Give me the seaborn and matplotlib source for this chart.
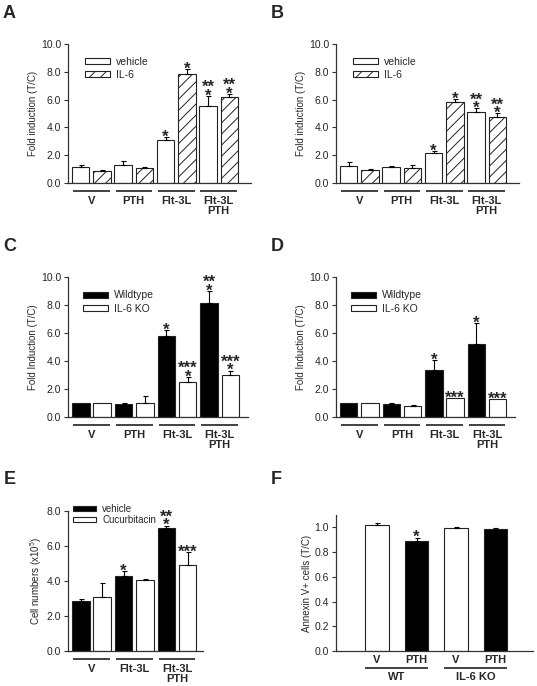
"""
Six-panel bar figure: fold induction / cell numbers / annexin V.
"""

import numpy as np
import pandas as pd
import matplotlib
matplotlib.use("Agg")
import matplotlib.pyplot as plt
import matplotlib.transforms as mtransforms
from matplotlib.patches import Patch
import seaborn as sns

# ---- data -----------------------------------------------------------------
groups = ["V", "PTH", "Flt-3L", "Flt-3L\nPTH"]

# A
a_names = ["vehicle", "IL-6"]
a_vehicle = [1.13, 1.32, 3.09, 5.54]
a_vehicle_err = [0.20, 0.24, 0.24, 0.74]
a_il6 = [0.86, 1.08, 7.82, 6.19]
a_il6_err = [0.10, 0.10, 0.38, 0.24]
a_vehicle_stars = [(), (), ("*",), ("*", "**")]
a_il6_stars = [(), (), ("*",), ("*", "**")]

# B
b_vehicle = [1.25, 1.13, 2.13, 5.08]
b_vehicle_err = [0.26, 0.09, 0.17, 0.29]
b_il6 = [0.94, 1.10, 5.80, 4.75]
b_il6_err = [0.05, 0.20, 0.22, 0.26]
b_vehicle_stars = [(), (), ("*",), ("*", "**")]
b_il6_stars = [(), (), ("*",), ("*", "**")]

# C
cd_names = ["Wildtype", "IL-6 KO"]
c_wt = [1.0, 0.95, 5.76, 8.14]
c_wt_err = [0.0, 0.07, 0.48, 0.88]
c_ko = [1.0, 0.97, 2.52, 3.00]
c_ko_err = [0.0, 0.55, 0.33, 0.32]
c_wt_stars = [(), (), ("*",), ("*", "**")]
c_ko_stars = [(), (), ("*", "***"), ("*", "***")]

# D
d_wt = [1.0, 0.90, 3.33, 5.24]
d_wt_err = [0.0, 0.07, 0.72, 1.50]
d_ko = [1.0, 0.80, 1.33, 1.29]
d_ko_err = [0.0, 0.05, 0.0, 0.0]
d_wt_stars = [(), (), ("*",), ("*",)]
d_ko_stars = [(), (), ("***",), ("***",)]

# E
e_groups = ["V", "Flt-3L", "Flt-3L\nPTH"]
e_names = ["vehicle", "Cucurbitacin"]
e_vehicle = [2.87, 4.31, 7.04]
e_vehicle_err = [0.10, 0.25, 0.13]
e_cuc = [3.06, 4.04, 4.90]
e_cuc_err = [0.83, 0.10, 0.75]
e_vehicle_stars = [(), ("*",), ("*", "**")]
e_cuc_stars = [(), (), ("***",)]

# F
f_treat = ["V", "PTH", "V", "PTH"]
f_genotype = ["WT", "WT", "IL-6 KO", "IL-6 KO"]
f_values = [1.016, 0.893, 0.997, 0.984]
f_err = [0.020, 0.025, 0.008, 0.010]
f_stars = [(), ("*",), (), ()]

# ---- style ----------------------------------------------------------------
sns.set_style("ticks")
plt.rcParams["font.family"] = ["Liberation Sans", "DejaVu Sans"]
plt.rcParams["mathtext.default"] = "regular"
plt.rcParams["hatch.color"] = "#333333"
plt.rcParams["hatch.linewidth"] = 0.7

EDGE = "#222222"
W, H = 537, 686

fig = plt.figure(figsize=(W / 100, H / 100), dpi=100)


def px_axes(l, t, r, b):
    return fig.add_axes([l / W, 1 - b / H, (r - l) / W, (b - t) / H])


def style_axis(ax, ylim, yticks, ylabel, fmt="%.1f"):
    ax.set_ylim(*ylim)
    ax.set_yticks(yticks)
    ax.yaxis.set_major_formatter(matplotlib.ticker.FormatStrFormatter(fmt))
    ax.set_ylabel(ylabel, fontsize=7, labelpad=2)
    ax.set_xlabel("")
    ax.tick_params(axis="y", direction="out", length=3, width=0.8, pad=2,
                   labelsize=7.5, color="#333333")
    ax.tick_params(axis="x", length=0)
    sns.despine(ax=ax)
    for s in ("left", "bottom"):
        ax.spines[s].set_color("#333333")
        ax.spines[s].set_linewidth(0.9)


def add_errors_and_stars(ax, container, errs, stars):
    xs = np.array([b.get_x() + b.get_width() / 2 for b in container])
    hs = np.array([b.get_height() for b in container])
    errs = np.asarray(errs)
    m = errs > 0
    if m.any():
        ax.errorbar(xs[m], hs[m], yerr=[np.zeros(m.sum()), errs[m]], fmt="none",
                    ecolor="black", elinewidth=0.8, capsize=1.8, capthick=0.8)
    for x, top, rows in zip(xs, hs + errs, stars):
        for k, s in enumerate(rows):
            ax.annotate(s, (x, top), xytext=(0, -3.4 + 6.3 * k),
                        textcoords="offset points", ha="center", va="baseline",
                        fontsize=12, fontweight="bold")


def group_axis(ax, centers, labels, half, line_dy, text_dy, fs=8):
    base = ax.get_xaxis_transform()
    line_tr = mtransforms.offset_copy(base, fig=fig, y=line_dy, units="dots")
    text_tr = mtransforms.offset_copy(base, fig=fig, y=text_dy, units="dots")
    for c, lab in zip(centers, labels):
        ax.plot([c - half, c + half], [0, 0], transform=line_tr, color="#333333",
                lw=1.3, clip_on=False, solid_capstyle="butt")
        ax.text(c, 0, lab, transform=text_tr, ha="center", va="top", fontsize=fs,
                fontweight="bold", linespacing=1.05)


def grouped_panel(ax, cats, names, values, errs, stars, colors, hatches,
                  ylim, yticks, ylabel, xlim, legend_at, legend_fs=7.5,
                  legend_spacing=0.3):
    df = pd.DataFrame({
        "group": np.tile(cats, len(names)),
        "series": np.repeat(names, len(cats)),
        "value": np.concatenate(values),
    })
    sns.barplot(data=df, x="group", y="value", hue="series", order=cats,
                hue_order=names, palette=colors, saturation=1, edgecolor=EDGE,
                linewidth=0.8, width=1.0, gap=0.18, errorbar=None, legend=False,
                ax=ax)
    for cont, hatch, err, st in zip(ax.containers, hatches, errs, stars):
        for bar in cont:
            bar.set_hatch(hatch)
        add_errors_and_stars(ax, cont, err, st)
    ax.set_xlim(*xlim)
    ax.set_xticks([])
    style_axis(ax, ylim, yticks, ylabel)
    handles = [Patch(facecolor=c, edgecolor=EDGE, hatch=h, linewidth=0.8)
               for c, h in zip(colors, hatches)]
    ax.legend(handles, names, loc="upper left", bbox_to_anchor=legend_at,
              frameon=False, fontsize=legend_fs, handlelength=2.4,
              handleheight=0.5, labelspacing=legend_spacing, handletextpad=0.6,
              borderpad=0, borderaxespad=0)
    group_axis(ax, range(len(cats)), cats, 0.43, -8, -13)


# A
ax = px_axes(68, 44, 251, 183)
grouped_panel(ax, groups, a_names, [a_vehicle, a_il6], [a_vehicle_err, a_il6_err],
              [a_vehicle_stars, a_il6_stars], ["white", "white"], ["", "///"],
              (0, 10), np.arange(0, 10.1, 2), "Fold induction (T/C)",
              (-0.55, 3.76), (0.093, 0.91))

# B
ax = px_axes(336, 44, 519, 183)
grouped_panel(ax, groups, a_names, [b_vehicle, b_il6], [b_vehicle_err, b_il6_err],
              [b_vehicle_stars, b_il6_stars], ["white", "white"], ["", "///"],
              (0, 10), np.arange(0, 10.1, 2), "Fold induction (T/C)",
              (-0.55, 3.76), (0.093, 0.91))

# C
ax = px_axes(68, 277, 248, 417)
grouped_panel(ax, groups, cd_names, [c_wt, c_ko], [c_wt_err, c_ko_err],
              [c_wt_stars, c_ko_stars], ["black", "white"], ["", ""],
              (0, 10), np.arange(0, 10.1, 2), "Fold Induction (T/C)",
              (-0.55, 3.66), (0.083, 0.904))

# D
ax = px_axes(336, 277, 515, 417)
grouped_panel(ax, groups, cd_names, [d_wt, d_ko], [d_wt_err, d_ko_err],
              [d_wt_stars, d_ko_stars], ["black", "white"], ["", ""],
              (0, 10), np.arange(0, 10.1, 2), "Fold Induction (T/C)",
              (-0.55, 3.66), (0.084, 0.904))

# E
ax = px_axes(68, 511, 203, 651)
grouped_panel(ax, e_groups, e_names, [e_vehicle, e_cuc], [e_vehicle_err, e_cuc_err],
              [e_vehicle_stars, e_cuc_stars], ["black", "white"], ["", ""],
              (0, 8), np.arange(0, 8.1, 2), r"Cell numbers (x10$^{5}$)",
              (-0.55, 2.61), (0.037, 1.05), legend_fs=7, legend_spacing=0.12)

# F
ax = px_axes(336, 515, 533, 651)
f_cond = [f"{g} {t}" for g, t in zip(f_genotype, f_treat)]
df_f = pd.DataFrame({"cond": f_cond, "treat": f_treat, "value": f_values})
sns.barplot(data=df_f, x="cond", y="value", hue="treat", order=f_cond,
            hue_order=["V", "PTH"], palette=["white", "black"], saturation=1,
            dodge=False, width=0.6, edgecolor=EDGE, linewidth=0.8,
            errorbar=None, legend=False, ax=ax)
bars = sorted([b for c in ax.containers for b in c], key=lambda b: b.get_x())
add_errors_and_stars(ax, bars, f_err, f_stars)
ax.set_xlim(-1.04, 3.95)
style_axis(ax, (0, 1.1), np.arange(0, 1.01, 0.2), "Annexin V+ cells (T/C)")
ax.set_xticks(range(len(f_treat)))
ax.set_xticklabels(f_treat, fontsize=8, fontweight="bold")
ax.tick_params(axis="x", pad=3)
group_axis(ax, [0.5, 2.5], ["WT", "IL-6 KO"], 0.8, -17, -21)

for lab, (x, y) in zip("ABCDEF", [(3, 5), (271, 5), (3, 238), (271, 238),
                                 (4, 471), (271, 471)]):
    fig.text(x / W, 1 - y / H, lab, fontsize=13, fontweight="bold", va="top")

fig.savefig("out.png", dpi=100)
